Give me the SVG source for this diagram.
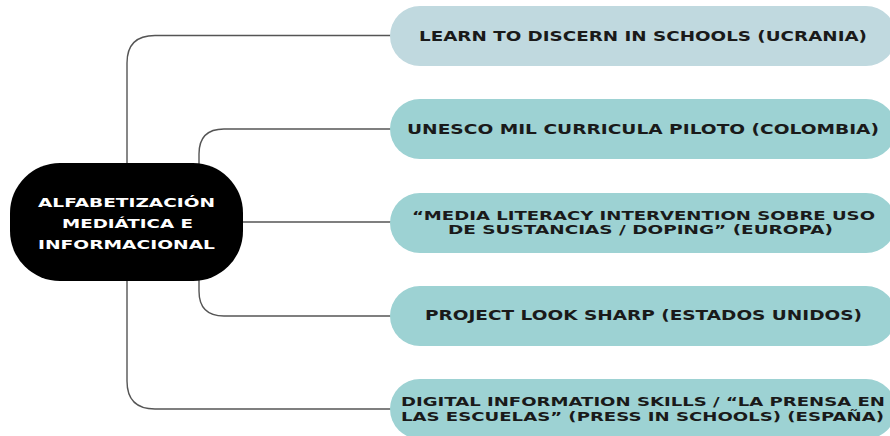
<svg xmlns="http://www.w3.org/2000/svg" width="890" height="436" viewBox="0 0 890 436">
<style>
.conn{fill:none;stroke:#555;stroke-width:1.4}
.pill{fill:#9dd2d3}
.pill.light{fill:#c0d9df}
.t{font-family:"DejaVu Sans","Liberation Sans",sans-serif;font-weight:bold;font-size:14px;fill:#1a1a1a;text-anchor:middle}
.t2{font-size:13px}
.ct{font-family:"DejaVu Sans","Liberation Sans",sans-serif;font-weight:bold;font-size:13px;fill:#ffffff;text-anchor:middle}
</style>
<rect width="890" height="436" fill="#ffffff"/>
<g id="connectors">
<path class="conn" d="M127,222 V63 Q127,35.5 155,35.5 H392"/>
<path class="conn" d="M127,222 V381 Q127,409 155,409 H392"/>
<path class="conn" d="M199,222 V154 Q199,129 224,129 H392"/>
<path class="conn" d="M199,222 V291 Q199,316 224,316 H392"/>
<path class="conn" d="M240,222 H392"/>
</g>
<g id="center">
<rect x="10" y="163" width="233" height="118" rx="50" fill="#000"/>
<text class="ct" x="126.5" y="207.3" textLength="177" lengthAdjust="spacingAndGlyphs">ALFABETIZACIÓN</text>
<text class="ct" x="127.5" y="228.3" textLength="131" lengthAdjust="spacingAndGlyphs">MEDIÁTICA E</text>
<text class="ct" x="126.5" y="249" textLength="177" lengthAdjust="spacingAndGlyphs">INFORMACIONAL</text>
</g>
<g id="n1">
<rect class="pill light" x="390" y="6" width="506" height="60" rx="30"/>
<text class="t" x="643" y="40.5" textLength="448" lengthAdjust="spacingAndGlyphs">LEARN TO DISCERN IN SCHOOLS (UCRANIA)</text>
</g>
<g id="n2">
<rect class="pill" x="390" y="99" width="506" height="60" rx="30"/>
<text class="t" x="643" y="133.5" textLength="472" lengthAdjust="spacingAndGlyphs">UNESCO MIL CURRICULA PILOTO (COLOMBIA)</text>
</g>
<g id="n3">
<rect class="pill" x="390" y="193" width="506" height="60" rx="30"/>
<text class="t t2" x="643.5" y="219.5" textLength="463" lengthAdjust="spacingAndGlyphs">“MEDIA LITERACY INTERVENTION SOBRE USO</text>
<text class="t t2" x="640.5" y="234" textLength="385" lengthAdjust="spacingAndGlyphs">DE SUSTANCIAS / DOPING” (EUROPA)</text>
</g>
<g id="n4">
<rect class="pill" x="390" y="286" width="506" height="60" rx="30"/>
<text class="t" x="643.5" y="319.5" textLength="437" lengthAdjust="spacingAndGlyphs">PROJECT LOOK SHARP (ESTADOS UNIDOS)</text>
</g>
<g id="n5">
<rect class="pill" x="390" y="379" width="506" height="60" rx="30"/>
<text class="t t2" x="643" y="405.5" textLength="484" lengthAdjust="spacingAndGlyphs">DIGITAL INFORMATION SKILLS / “LA PRENSA EN</text>
<text class="t t2" x="642.5" y="420.5" textLength="483" lengthAdjust="spacingAndGlyphs">LAS ESCUELAS” (PRESS IN SCHOOLS) (ESPAÑA)</text>
</g>
</svg>
